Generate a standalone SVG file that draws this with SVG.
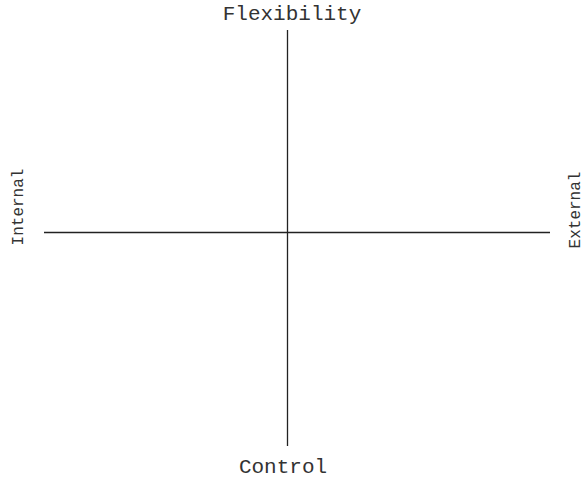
<svg xmlns="http://www.w3.org/2000/svg" width="585" height="480" viewBox="0 0 585 480">
<style>
.lbl{font-family:"Liberation Mono","Courier New",monospace;fill:#333;text-anchor:middle}
.h{font-size:21px}
.v{font-size:16px}
.axis{stroke:#222;stroke-width:1.3;fill:none}
</style>
<rect width="585" height="480" fill="#fff"/>
<g id="axes">
<line class="axis" x1="287.5" y1="30" x2="287.5" y2="446"/>
<line class="axis" x1="44" y1="232.5" x2="550" y2="232.5"/>
</g>
<g id="label-flexibility"><text class="lbl h" x="292" y="20">Flexibility</text></g>
<g id="label-control"><text class="lbl h" x="283" y="473">Control</text></g>
<g id="label-internal"><text class="lbl v" transform="translate(23,207) rotate(-90)">Internal</text></g>
<g id="label-external"><text class="lbl v" transform="translate(580,210) rotate(-90)">External</text></g>
</svg>
